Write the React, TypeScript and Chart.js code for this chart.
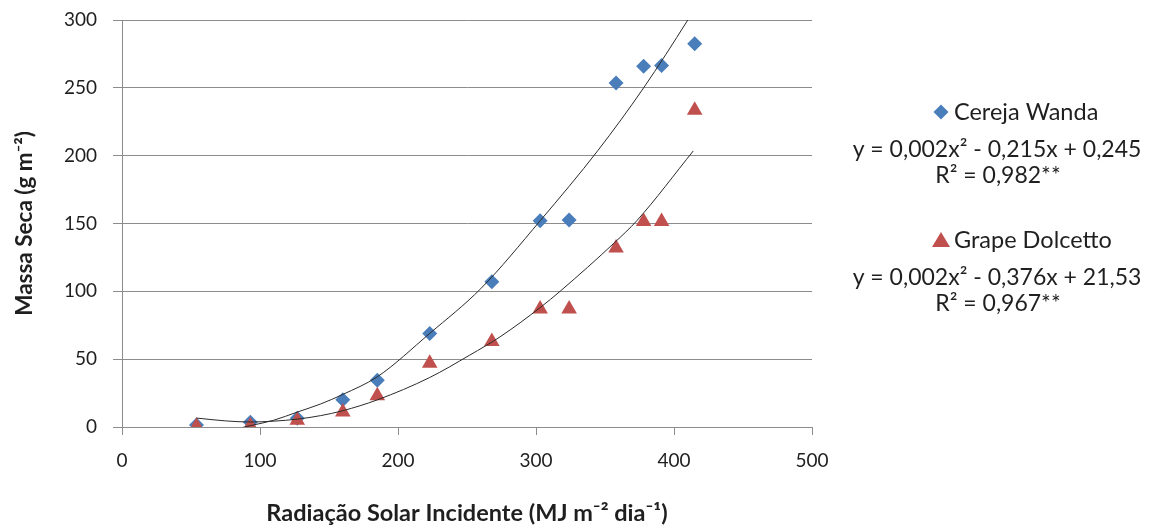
import React, { useEffect, useRef } from 'react';
import { Chart, registerables } from 'chart.js';

Chart.register(...registerables);

// Incident solar radiation (MJ m-2 dia-1) for each sampling
const radiation = [54, 93, 127, 160, 185, 223, 268, 303, 324, 358, 378, 391, 415];
// Dry mass (g m-2)
const cerejaWanda = [1.5, 3.5, 6.5, 20, 34.5, 69, 107, 152, 152.5, 253.5, 266, 266.5, 282.5];
const grapeDolcetto = [0.5, 1, 5, 11, 23, 47, 63, 87, 87, 132, 151.5, 151.5, 233.5];

// Trend curves
const cerejaTrendX = [54, 75, 93, 110, 127, 144, 160, 185, 223, 260, 303, 345, 378, 410, 416];
const cerejaTrendY = [-5, -3, 1, 5, 11, 17, 24, 37, 69, 102, 152, 204, 250, 300, 310];
const grapeTrendX = [54, 75, 93, 110, 127, 144, 160, 185, 223, 252, 274, 303, 318, 357, 373, 414];
const grapeTrendY = [6.6, 4.5, 3.7, 4.3, 5.8, 8.4, 12, 20, 36.5, 53, 66.5, 88, 100.5, 136, 152, 203.5];

const seriesNames = ['Cereja Wanda', 'Grape Dolcetto'];
const equations = ['y = 0,002x² - 0,215x + 0,245', 'y = 0,002x² - 0,376x + 21,53'];
const r2Labels = ['R² = 0,982**', 'R² = 0,967**'];

const xTitle = 'Radiação Solar Incidente (MJ m⁻² dia⁻¹)';
const yTitle = 'Massa Seca (g m⁻²)';

const BLUE = '#4A7EBB';
const RED = '#C0504D';
const GRID = '#8C8C8C';
const TEXT = '#1f1f1f';
const FONT = 'Lato, "Open Sans", sans-serif';

const sideLegend = {
  id: 'sideLegend',
  afterDraw(chart: any) {
    const ctx = chart.ctx as CanvasRenderingContext2D;
    ctx.save();
    const blocks = [
      { y: 112, color: BLUE, shape: 'diamond' },
      { y: 240, color: RED, shape: 'triangle' },
    ];
    blocks.forEach((b, i) => {
      const mx = 941;
      ctx.fillStyle = b.color;
      ctx.beginPath();
      if (b.shape === 'diamond') {
        ctx.moveTo(mx, b.y - 7.5);
        ctx.lineTo(mx + 7.5, b.y);
        ctx.lineTo(mx, b.y + 7.5);
        ctx.lineTo(mx - 7.5, b.y);
      } else {
        ctx.moveTo(mx, b.y - 8);
        ctx.lineTo(mx + 9, b.y + 7);
        ctx.lineTo(mx - 9, b.y + 7);
      }
      ctx.closePath();
      ctx.fill();
      ctx.fillStyle = TEXT;
      ctx.font = `23.5px ${FONT}`;
      ctx.textBaseline = 'middle';
      ctx.textAlign = 'left';
      ctx.fillText(seriesNames[i], 954, b.y);
      ctx.font = `23px ${FONT}`;
      ctx.textAlign = 'center';
      ctx.fillText(equations[i], 997, b.y + 38);
      ctx.fillText(r2Labels[i], 998, b.y + 64);
    });
    ctx.restore();
  },
};

export default function App() {
  const ref = useRef<HTMLCanvasElement | null>(null);

  useEffect(() => {
    if (!ref.current) return;
    const chart = new Chart(ref.current, {
      type: 'scatter',
      data: {
        datasets: [
          {
            type: 'line',
            label: 'trend-cereja',
            data: cerejaTrendX.map((x, i) => ({ x, y: cerejaTrendY[i] })),
            borderColor: '#2b2b2b',
            borderWidth: 1,
            pointRadius: 0,
            fill: false,
            cubicInterpolationMode: 'monotone',
            order: 1,
          },
          {
            type: 'line',
            label: 'trend-grape',
            data: grapeTrendX.map((x, i) => ({ x, y: grapeTrendY[i] })),
            borderColor: '#2b2b2b',
            borderWidth: 1,
            pointRadius: 0,
            fill: false,
            cubicInterpolationMode: 'monotone',
            order: 2,
          },
          {
            label: seriesNames[1],
            data: radiation.map((x, i) => ({ x, y: grapeDolcetto[i] })),
            pointStyle: 'triangle',
            pointRadius: 9,
            backgroundColor: RED,
            borderColor: RED,
            borderWidth: 0,
            order: 3,
          },
          {
            label: seriesNames[0],
            data: radiation.map((x, i) => ({ x, y: cerejaWanda[i] })),
            pointStyle: 'rectRot',
            pointRadius: 7.5,
            backgroundColor: BLUE,
            borderColor: BLUE,
            borderWidth: 0,
            order: 4,
          },
        ],
      },
      options: {
        animation: false,
        responsive: false,
        maintainAspectRatio: false,
        layout: { padding: { top: 20, right: 337, left: 0, bottom: 0 } },
        plugins: { legend: { display: false }, tooltip: { enabled: false } },
        scales: {
          x: {
            type: 'linear',
            min: 0,
            max: 500,
            ticks: { stepSize: 100, color: TEXT, font: { family: FONT, size: 19 }, padding: 14 },
            grid: { drawOnChartArea: false, drawTicks: true, tickLength: 8, color: GRID },
            border: { color: GRID, width: 1 },
            title: {
              display: true,
              text: xTitle,
              color: TEXT,
              font: { family: FONT, size: 23.5, weight: 'bold' },
              padding: { top: 0, bottom: 0 },
            },
            afterFit: (s: any) => {
              s.height = 101;
              s.paddingLeft = 0;
              s.paddingRight = 0;
            },
          },
          y: {
            type: 'linear',
            min: 0,
            max: 300,
            ticks: { stepSize: 50, color: TEXT, font: { family: FONT, size: 19 }, padding: 16 },
            grid: { color: GRID, tickLength: 9 },
            border: { color: GRID, width: 1 },
            title: {
              display: true,
              text: yTitle,
              color: TEXT,
              font: { family: FONT, size: 22.5, weight: 'bold' },
              padding: { top: 11, bottom: 0 },
            },
            afterFit: (s: any) => {
              s.width = 122;
              s.paddingTop = 0;
              s.paddingBottom = 0;
            },
          },
        },
      },
      plugins: [sideLegend],
    } as any);
    return () => chart.destroy();
  }, []);

  return (
    <div style={{ position: 'absolute', left: 0, top: 0, width: 1149, height: 528, background: '#fff' }}>
      <canvas ref={ref} width={1149} height={528} style={{ display: 'block' }} />
    </div>
  );
}
